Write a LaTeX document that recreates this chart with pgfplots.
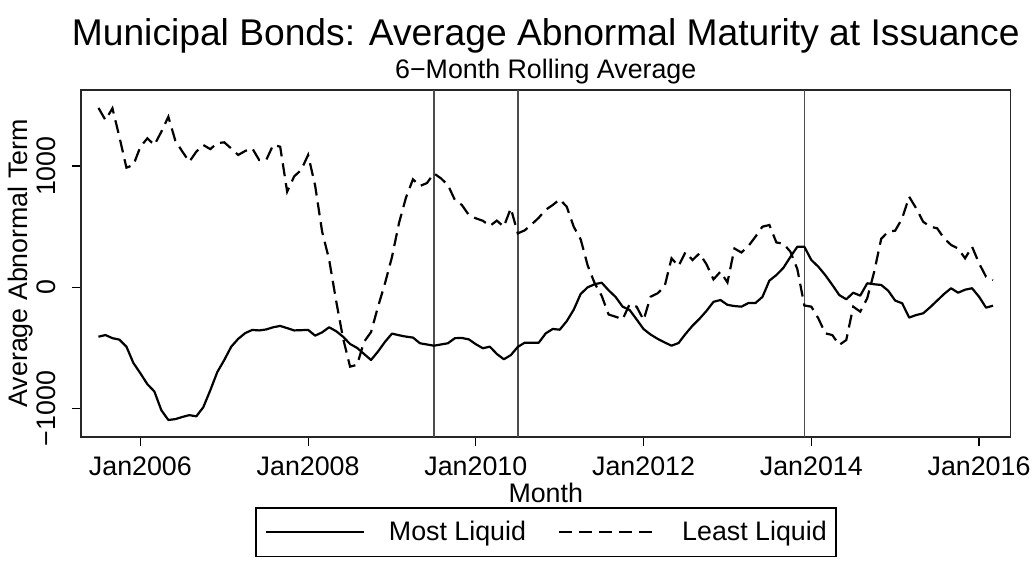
\documentclass[border=0pt]{standalone}
\usepackage{fontspec}
\setmainfont{Liberation Sans}
\usepackage{pgfplots}
\pgfplotsset{compat=1.18}
\usepackage{pgfplotstable}

\pgfplotstableread{
m most least
-6 -408 1480
-5 -394 1380
-4 -420 1477
-3 -432 1240
-2 -490 987
-1 -625 1009
0 -710 1160
1 -800 1229
2 -860 1174
3 -1015 1284
4 -1095 1407
5 -1088 1210
6 -1070 1120
7 -1055 1036
8 -1065 1119
9 -990 1174
10 -850 1140
11 -700 1190
12 -600 1196
13 -490 1145
14 -425 1092
15 -378 1125
16 -352 1147
17 -356 1050
18 -348 1050
19 -330 1175
20 -319 1160
21 -337 789
22 -356 915
23 -354 968
24 -352 1092
25 -399 840
26 -372 460
27 -330 230
28 -362 -110
29 -408 -421
30 -468 -655
31 -500 -640
32 -550 -450
33 -600 -370
34 -530 -160
35 -450 33
36 -382 250
37 -396 530
38 -407 740
39 -415 891
40 -462 836
41 -472 860
42 -482 940
43 -472 899
44 -462 844
45 -420 720
46 -418 679
47 -430 596
48 -470 569
49 -503 549
50 -490 506
51 -550 550
52 -594 500
53 -560 652
54 -492 445
55 -457 470
56 -457 520
57 -457 574
58 -380 640
59 -344 679
60 -350 726
61 -280 665
62 -185 500
63 -55 395
64 0 180
65 25 33
66 38 -70
67 -25 -225
68 -80 -243
69 -160 -264
70 -187 -140
71 -265 -160
72 -345 -270
73 -390 -78
74 -425 -50
75 -455 5
76 -482 239
77 -460 175
78 -385 290
79 -317 225
80 -260 280
81 -195 190
82 -120 65
83 -105 129
84 -145 40
85 -155 320
86 -160 287
87 -130 340
88 -130 417
89 -80 500
90 55 514
91 101 370
92 160 360
93 250 294
94 335 150
95 335 -150
96 225 -160
97 170 -256
98 100 -380
99 20 -394
100 -64 -476
101 -99 -435
102 -45 -160
103 -69 -201
104 33 -91
105 25 129
106 19 400
107 -28 459
108 -110 467
109 -132 569
110 -250 747
111 -229 652
112 -215 541
113 -165 500
114 -110 487
115 -55 404
116 -8 349
117 -45 320
118 -20 239
119 -8 335
120 -78 198
121 -168 87
122 -152 60
}\datatable

\begin{document}
\begin{tikzpicture}
\begin{axis}[
  scale only axis,
  width=464.75pt, height=173.35pt,
  xmin=-8.5, xmax=124.5, ymin=-1233, ymax=1628,
  axis line style={line width=0.9pt, draw=black!85},
  xtick={0,24,48,72,96,120},
  xticklabels={Jan2006,Jan2008,Jan2010,Jan2012,Jan2014,Jan2016},
  ytick={-1000,0,1000},
  yticklabels={−1000,0,1000},
  xtick pos=bottom, ytick pos=left,
  tick align=outside, major tick length=4.5pt,
  tick style={line width=0.6pt, black},
  ticklabel style={font=\fontsize{13.4}{16}\selectfont},
  xticklabel style={anchor=base, yshift=-15pt},
  yticklabel style={rotate=90, anchor=base, yshift=8pt},
  xlabel={Month},
  ylabel={Average Abnormal Term},
  label style={font=\fontsize{13.4}{16}\selectfont},
  xlabel style={at={(axis description cs:0.5,0)}, anchor=base, yshift=-33pt},
  ylabel style={at={(axis description cs:-0.058,0.5)}, anchor=base},
  legend style={at={(0.5,-0.203)}, anchor=north, legend columns=2, draw=black,
    line width=0.8pt, font=\fontsize{13.4}{16}\selectfont,
    inner xsep=4.5pt, inner ysep=4pt,
    nodes={inner xsep=0pt, inner ysep=2.5pt},
    /tikz/every even column/.append style={column sep=16pt}},
  legend image code/.code={\draw[#1] (0pt,0pt) -- (49pt,0pt); \path (61pt,0pt);},
  legend cell align=left,
]
\addplot[forget plot, black!70, line width=0.8pt] coordinates {(42,-1233) (42,1628)};
\addplot[forget plot, black!70, line width=0.8pt] coordinates {(54,-1233) (54,1628)};
\addplot[forget plot, black!70, line width=0.8pt] coordinates {(95,-1233) (95,1628)};
\addplot[black, line width=1.1pt, line join=round] table[x=m, y=most] {\datatable};
\addlegendentry{Most Liquid}
\addplot[black, line width=1.1pt, dash pattern=on 6.5pt off 3.5pt] table[x=m, y=least] {\datatable};
\addlegendentry{Least Liquid}
\end{axis}
\node[anchor=base, font=\fontsize{18.6}{20}\selectfont] at ([yshift=22pt]current axis.north) {Municipal Bonds: Average Abnormal Maturity at Issuance};
\node[anchor=base, font=\fontsize{13.4}{16}\selectfont] at ([yshift=5.5pt]current axis.north) {6−Month Rolling Average};
\pgfresetboundingbox
\path ([xshift=-40.5pt,yshift=-65.65pt]current axis.south west) rectangle ([xshift=477pt,yshift=218.35pt]current axis.south west);
\end{tikzpicture}
\end{document}
